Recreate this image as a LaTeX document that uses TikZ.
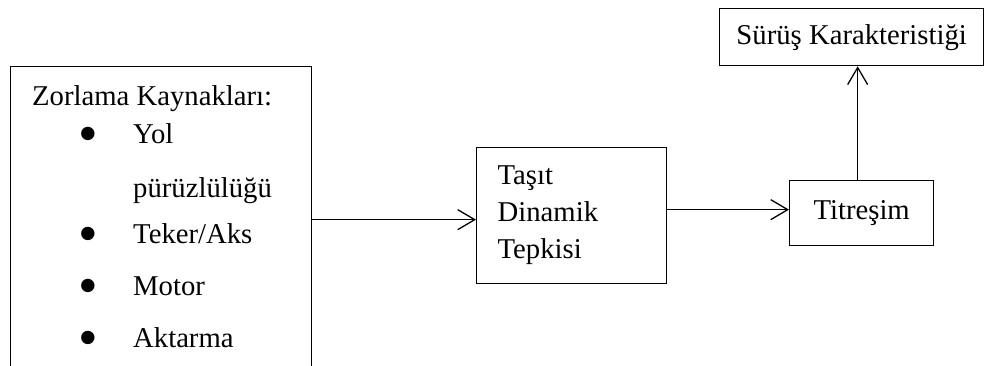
\documentclass[tikz,border=0pt]{standalone}
\usepackage{fontspec}
\setmainfont{Liberation Serif}
\usetikzlibrary{arrows.meta, positioning}

\tikzset{
  block/.style={draw, line width=1.3pt, inner sep=0pt, font=\fontsize{28.7}{37}\selectfont},
  txt/.style={anchor=base west, inner sep=0pt, font=\fontsize{28.7}{37}\selectfont},
  bullet/.style={anchor=base west, inner sep=0pt, font=\fontsize{56}{56}\selectfont},
  flow/.style={line width=1.3pt, -{Straight Barb[length=17pt, width=20pt, line width=1.3pt]}}
}

\begin{document}
\begin{tikzpicture}[x=1pt, y=-1pt]
  \clip (0,0) rectangle (984,365);
  % sources box (runs off the bottom edge)
  \node[block, anchor=north west, minimum width=301pt, minimum height=306pt] (src) at (10,66) {};
  \node[txt] (srctitle) at (32,105) {Zorlama Kaynakları:};
  \foreach \y/\t [count=\i] in {143/Yol, 243/{Teker/Aks}, 295/Motor, 347/Aktarma} {
    \node[bullet] (dot\i) at (78,\y+9) {\textbullet};
    \node[txt] (item\i) at (133,\y) {\t};
  }
  \node[txt] (item1b) at (133,197) {pürüzlülüğü};
  % response box
  \node[block, anchor=north west, minimum width=190pt, minimum height=136pt,
        text width=148pt, inner xsep=21pt, align=left] (resp) at (476,147) {Taşıt\\Dinamik\\Tepkisi};
  % vibration and ride boxes
  \node[block, anchor=north west, minimum width=144pt, minimum height=65pt] (vib) at (789,180) {Titreşim};
  \node[block, anchor=north west, minimum width=264pt, minimum height=57pt] (ride) at (719,8) {Sürüş Karakteristiği};
  % arrows
  \draw[flow] (src.east) -- (src.east -| resp.west);
  \draw[flow] ([yshift=6pt]resp.east) -- ([yshift=6pt]resp.east -| vib.west);
  \draw[flow] ([xshift=-4pt]vib.north) -- ([xshift=-4pt]vib.north |- ride.south);
\end{tikzpicture}
\end{document}
